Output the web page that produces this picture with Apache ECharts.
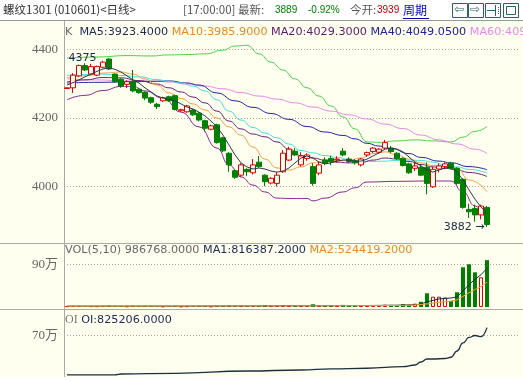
<!DOCTYPE html>
<html><head><meta charset="utf-8">
<script src="https://cdn.jsdelivr.net/npm/echarts@6/dist/echarts.min.js"></script>
<style>html,body{margin:0;padding:0;background:#fff}#c{width:523px;height:381px}</style>
</head><body><div id="c"></div>
<script>
// ---- data ----
const categories = ['1','2','3','4','5','6','7','8','9','10','11','12','13','14','15','16','17','18','19','20',
'21','22','23','24','25','26','27','28','29','30','31','32','33','34','35','36','37','38','39','40',
'41','42','43','44','45','46','47','48','49','50','51','52','53','54','55','56','57','58','59','60',
'61','62','63','64','65','66','67','68','69','70','71','72','73','74','75','76'];
const opens  = [4286,4288,4323,4353,4328,4325,4348,4372,4328,4313,4298,4306,4284,4275,4259,4240,4250,4262,4265,4221,
4218,4223,4214,4192,4167,4180,4142,4097,4046,4033,4050,4040,4071,4033,4010,4009,4043,4077,4103,4063,
4082,4058,4039,4077,4082,4078,4103,4080,4075,4063,4092,4102,4100,4112,4112,4097,4082,4066,4053,4056,
4056,3999,4051,4058,4068,4053,4021,3933,3936,3917,3939];
const closes = [4288,4325,4353,4340,4350,4350,4363,4343,4306,4293,4306,4279,4274,4258,4246,4233,4259,4250,4225,4224,
4235,4209,4194,4170,4177,4128,4104,4063,4027,4063,4043,4063,4058,4014,4024,4033,4097,4109,4092,4089,
4092,4009,4063,4068,4072,4080,4092,4073,4069,4080,4099,4112,4109,4128,4102,4082,4061,4040,4060,4033,
4009,4050,4060,4066,4053,4009,3939,3926,3917,3943,3889];
const lows   = [4285,4273,4320,4337,4325,4322,4345,4340,4303,4288,4287,4275,4271,4252,4241,4226,4247,4247,4222,4218,
4215,4206,4190,4160,4164,4125,4100,4043,4022,4027,4030,4035,4055,4001,4006,4000,4040,4074,4089,4058,
4075,4002,4033,4062,4062,4070,4088,4068,4064,4058,4086,4098,4096,4109,4097,4078,4058,4037,4045,4030,
3977,3996,4041,4050,4050,4005,3935,3908,3897,3904,3882];
const highs  = [4289,4331,4356,4360,4358,4353,4367,4375,4330,4316,4310,4340,4287,4278,4262,4244,4262,4265,4268,4227,
4238,4226,4217,4195,4180,4183,4145,4100,4050,4068,4053,4080,4089,4036,4027,4042,4106,4116,4112,4100,
4097,4068,4073,4085,4090,4088,4112,4085,4080,4083,4102,4115,4112,4136,4118,4100,4085,4069,4070,4062,
4070,4058,4067,4070,4072,4056,4024,3950,3947,3947,3943];
const volumes = [18000,22000,20000,15000,19000,17000,21000,24000,20000,18000,15000,23000,16000,19000,17000,15000,14000,16000,22000,13000,
17000,15000,18000,21000,14000,25000,22000,27000,20000,24000,18000,23000,21000,42000,19000,24000,38000,31000,22000,26000,
20000,58000,30000,25000,40000,34000,45000,28000,24000,30000,32000,29000,35000,48000,44000,38000,62000,40000,70000,110000,
289000,217000,217000,200000,126000,310000,837000,900000,731000,626000,986768];
const ma5 = [4296,4303,4311,4320,4328,4336,4343,4346,4342,4334,4323,4311,4302,4288,4276,4264,4258,4254,4250,4241,
4232,4226,4217,4206,4191,4174,4150,4121,4092,4069,4057,4051,4054,4051,4045,4042,4045,4054,4069,4083,
4089,4083,4071,4066,4069,4074,4077,4077,4074,4074,4080,4089,4098,4109,4112,4109,4101,4086,4071,4060,
4048,4042,4048,4054,4057,4042,4019,3990,3963,3940,3921];
const ma10 = [[0,4317],[3,4323],[6,4331],[9,4334],[11,4328],[13,4314],[15,4296],[17,4273],[19,4257],[21,4241],[23,4223],[25,4200],[27,4174],[29,4150],[31,4115],[33,4080],[35,4054],[37,4048],[39,4057],[41,4069],[43,4074],[45,4076],[47,4077],[49,4083],[51,4096],[53,4101],[55,4092],[57,4080],[59,4069],[61,4061],[63,4060],[65,4054],[67,4019],[70,3985]];
const ma20 = [[0,4305],[3,4311],[6,4318],[9,4317],[12,4309],[15,4299],[17,4288],[19,4276],[21,4261],[23,4244],[25,4220],[27,4191],[29,4168],[31,4153],[33,4145],[35,4130],[37,4109],[39,4090],[41,4083],[43,4077],[45,4071],[47,4069],[49,4070],[51,4077],[53,4083],[55,4080],[57,4073],[59,4064],[61,4057],[63,4053],[65,4048],[67,4041],[70,4029]];
const ma40 = [[0,4302],[5,4304],[10,4305],[14,4307],[17,4308],[20,4302],[22,4296],[25,4273],[28,4250],[31,4231],[34,4213],[37,4196],[40,4175],[43,4159],[46,4149],[48,4139],[50,4126],[52,4118],[54,4111],[57,4096],[59,4085],[62,4074],[64,4069],[67,4058],[70,4049]];
const ma60 = [[0,4314],[5,4311],[10,4308],[15,4307],[17,4305],[20,4299],[23,4293],[26,4285],[29,4274],[32,4264],[35,4255],[38,4244],[41,4232],[44,4220],[47,4209],[50,4197],[53,4182],[56,4169],[59,4150],[62,4136],[65,4124],[68,4109],[70,4096]];
const midLine = [[0,4324],[3,4327],[6,4328],[9,4324],[12,4320],[15,4312],[17,4307],[19,4302],[21,4293],[23,4279],[25,4253],[27,4220],[29,4194],[31,4172],[33,4156],[35,4142],[37,4124],[39,4105],[41,4098],[43,4090],[45,4085],[47,4079],[49,4074],[51,4073],[53,4074],[55,4076],[57,4077],[59,4076],[61,4071],[63,4063],[65,4057],[67,4050],[70,4039]];
const upperBand = [[0,4375],[5,4378],[10,4382],[14,4381],[17,4384],[20,4385],[23,4387],[26,4398],[28,4410],[30,4412],[32,4387],[34,4363],[36,4340],[38,4314],[40,4288],[42,4264],[44,4235],[46,4203],[48,4168],[50,4130],[52,4129],[55,4133],[58,4136],[61,4133],[64,4130],[66,4144],[68,4161],[70,4175]];
const lowerBand = [[0,4253],[3,4266],[6,4280],[9,4292],[11,4292],[13,4279],[16,4258],[19,4217],[22,4174],[25,4112],[27,4063],[29,4028],[31,4004],[33,3984],[35,3966],[37,3965],[40,3965],[41,3958],[43,3966],[46,3984],[48,3996],[50,4013],[55,4015],[60,4016],[64,4016],[66,3984],[68,3943],[70,3896]];
const volMa1 = [[0,19000],[20,20000],[40,26000],[50,31000],[55,38000],[58,50000],[59,62000],[60,110000],[62,170000],[64,190000],[65,214000],[66,338000],[67,475000],[68,581000],[69,681000],[70,816387]];
const volMa2 = [[0,19000],[40,24000],[55,32000],[58,42000],[60,65000],[62,100000],[64,125000],[65,150000],[66,225000],[67,300000],[68,370000],[69,430000],[70,524419]];
const openInterest = [[0,85000],[8,85000],[9,100000],[18,111000],[30,147000],[39,163000],[44,179000],[50,190000],[56,215000],[58,241000],[59,288000],[60,335000],[61,335000],[63,343000],[64,362000],[65,460000],[66,586000],[67,672000],[68,703000],[69,684000],[70,825206]];
const priceTicks = [4000, 4200, 4400];
const volTicks = [900000];
const oiTicks = [700000];

// ---- chart ----
const CREAM = '#fffff0';
const chart = echarts.init(document.getElementById('c'));
const candleData = opens.map((o, i) => [o, closes[i], lows[i], highs[i]]);
const volData = volumes.map((v, i) => ({
  value: v,
  itemStyle: closes[i] >= opens[i] ? {color: CREAM, borderColor: '#e00000', borderWidth: 1} : {color: '#008000'}
}));
const wan = v => (v / 10000) + '万';
const plain = v => String(v);
const axisLab = {color: '#666', fontFamily: 'Liberation Serif, Noto Sans CJK SC', fontSize: 13, margin: 6};
const split = {show: true, lineStyle: {color: '#aaa', type: [1, 2], width: 1}};
function ln(data, color, xi, yi, smooth, z) {
  return {type: 'line', data: data, xAxisIndex: xi, yAxisIndex: yi, symbol: 'none', showSymbol: false,
    smooth: smooth, smoothMonotone: 'x', lineStyle: {color: color, width: 1}, z: z || 3, silent: true};
}
const f11 = 'DejaVu Sans';
const fs = 11.2;
chart.setOption({
  animation: false,
  backgroundColor: CREAM,
  grid: [
    {left: 64, right: 3, top: 21, height: 222, outerBoundsMode: 'none'},
    {left: 64, right: 3, top: 248, height: 59, outerBoundsMode: 'none'},
    {left: 64, right: 3, top: 311, height: 69.4, outerBoundsMode: 'none'}
  ],
  xAxis: [0, 1, 2].map(g => ({type: 'category', gridIndex: g, data: categories, boundaryGap: true, show: false})),
  yAxis: [
    {gridIndex: 0, min: 3835, max: 4483, axisLine: {show: false}, axisTick: {show: false, customValues: priceTicks},
      axisLabel: Object.assign({customValues: priceTicks, formatter: plain}, axisLab), splitLine: split},
    {gridIndex: 1, min: 0, max: 1243000, axisLine: {show: false}, axisTick: {show: false, customValues: volTicks},
      axisLabel: Object.assign({customValues: volTicks, formatter: wan}, axisLab), splitLine: split},
    {gridIndex: 2, min: 0, max: 1086000, axisLine: {show: false}, axisTick: {show: false, customValues: oiTicks},
      axisLabel: Object.assign({customValues: oiTicks, formatter: wan}, axisLab), splitLine: split}
  ],
  title: [
    {text: '螺纹1301 (010601)<日线>', left: 3, top: 4, padding: 0, textStyle: {fontFamily: 'Noto Sans CJK SC', fontSize: 11.5, fontWeight: 'normal', color: '#333'}},
    {text: '[17:00:00] 最新:', left: 183, top: 4, padding: 0, textStyle: {fontFamily: 'Noto Sans CJK SC', fontSize: 11.5, fontWeight: 'normal', color: '#555'}},
    {text: '3889', left: 275, top: 5, padding: 0, textStyle: {fontFamily: 'Liberation Sans', fontSize: 10, fontWeight: 'normal', color: '#008000'}},
    {text: '-0.92%', left: 308, top: 5, padding: 0, textStyle: {fontFamily: 'Liberation Sans', fontSize: 10, fontWeight: 'normal', color: '#008000'}},
    {text: '今开:', left: 350, top: 4, padding: 0, textStyle: {fontFamily: 'Noto Sans CJK SC', fontSize: 11.5, fontWeight: 'normal', color: '#555'}},
    {text: '3939', left: 377, top: 5, padding: 0, textStyle: {fontFamily: 'Liberation Sans', fontSize: 10, fontWeight: 'normal', color: '#c00000'}},
    {text: '{k|K}  {a|MA5:3923.4000} {b|MA10:3985.9000} {c|MA20:4029.3000} {d|MA40:4049.0500} {e|MA60:4096.2000}',
      left: 65, top: 27, padding: 0, textStyle: {fontFamily: f11, fontSize: fs, fontWeight: 'normal', rich: {
        k: {color: '#666', fontFamily: f11, fontSize: fs}, a: {color: '#1c2a50', fontFamily: f11, fontSize: fs},
        b: {color: '#f08a20', fontFamily: f11, fontSize: fs}, c: {color: '#5a1a66', fontFamily: f11, fontSize: fs},
        d: {color: '#22229a', fontFamily: f11, fontSize: fs}, e: {color: '#ee88ee', fontFamily: f11, fontSize: fs}}}},
    {text: '{g|VOL(5,10) 986768.0000} {a|MA1:816387.2000} {b|MA2:524419.2000}', left: 65, top: 245, padding: 0,
      textStyle: {fontFamily: f11, fontSize: fs, fontWeight: 'normal', rich: {
        g: {color: '#666', fontFamily: f11, fontSize: fs}, a: {color: '#1c2a50', fontFamily: f11, fontSize: fs},
        b: {color: '#f08a20', fontFamily: f11, fontSize: fs}}}},
    {text: '{g|OI} {a|OI:825206.0000}', left: 65, top: 314, padding: 0,
      textStyle: {fontFamily: f11, fontSize: fs, fontWeight: 'normal', rich: {
        g: {color: '#777', fontFamily: 'Liberation Serif', fontSize: 12}, a: {color: '#1c2a50', fontFamily: f11, fontSize: fs}}}}
  ],
  graphic: [
    {type: 'rect', shape: {x: 0, y: 0, width: 523, height: 20}, style: {fill: '#fff'}, z: -10, silent: true},
    {type: 'rect', shape: {x: 0, y: 377, width: 523, height: 4}, style: {fill: '#fff'}, z: 100, silent: true},
    {type: 'line', shape: {x1: 0, y1: 20.5, x2: 523, y2: 20.5}, style: {stroke: '#999', lineWidth: 1}, silent: true},
    {type: 'line', shape: {x1: 64.5, y1: 21, x2: 64.5, y2: 377}, style: {stroke: '#aaa', lineWidth: 1}, silent: true},
    {type: 'line', shape: {x1: 0, y1: 243.5, x2: 523, y2: 243.5}, style: {stroke: '#aaa', lineWidth: 1}, silent: true},
    {type: 'line', shape: {x1: 0, y1: 309.5, x2: 523, y2: 309.5}, style: {stroke: '#aaa', lineWidth: 1}, silent: true},
    {type: 'rect', shape: {x: 401, y: 1, width: 40, height: 18}, style: {fill: '#fff'}, z: 50, silent: true},
    {type: 'text', x: 403, y: 4, style: {text: '周期', fill: '#0000c0', font: '12px "Noto Sans CJK SC"'}, z: 51, silent: true},
    {type: 'line', shape: {x1: 403, y1: 18.5, x2: 429, y2: 18.5}, style: {stroke: '#0000c0', lineWidth: 1}, z: 51, silent: true},
    {type: 'rect', shape: {x: 452.5, y: 3.5, width: 15, height: 14}, style: {fill: '#fff', stroke: '#2a6464', lineWidth: 1}, z: 51, silent: true},
    {type: 'text', x: 454, y: 4, style: {text: '⇦', fill: '#2a6464', font: '12px "DejaVu Sans"'}, z: 52, silent: true},
    {type: 'rect', shape: {x: 468.5, y: 3.5, width: 15, height: 14}, style: {fill: '#fff', stroke: '#2a6464', lineWidth: 1}, z: 51, silent: true},
    {type: 'text', x: 470, y: 4, style: {text: '⇨', fill: '#2a6464', font: '12px "DejaVu Sans"'}, z: 52, silent: true},
    {type: 'rect', shape: {x: 485.5, y: 3.5, width: 15, height: 14}, style: {fill: '#fff', stroke: '#2a6464', lineWidth: 1}, z: 51, silent: true},
    {type: 'line', shape: {x1: 487, y1: 10.5, x2: 495, y2: 10.5}, style: {stroke: '#2a6464', lineWidth: 1}, z: 52, silent: true},
    {type: 'line', shape: {x1: 495.5, y1: 5, x2: 495.5, y2: 16}, style: {stroke: '#2a6464', lineWidth: 1}, z: 52, silent: true},
    {type: 'line', shape: {x1: 498.5, y1: 7, x2: 498.5, y2: 14}, style: {stroke: '#2a6464', lineWidth: 1, lineDash: [1, 1]}, z: 52, silent: true},
    {type: 'rect', shape: {x: 503.5, y: 3.5, width: 15, height: 14}, style: {fill: '#fff', stroke: '#2a6464', lineWidth: 1}, z: 51, silent: true},
    {type: 'rect', shape: {x: 506.5, y: 6.5, width: 9, height: 8}, style: {fill: 'none', stroke: '#2a6464', lineWidth: 1}, z: 52, silent: true}
  ],
  series: [
    ln(upperBand, '#4cd24c', 0, 0, true),
    ln(lowerBand, '#8a2a96', 0, 0, true),
    ln(ma60, '#e88ae8', 0, 0, true),
    ln(ma40, '#2424a0', 0, 0, true),
    ln(midLine, '#44dede', 0, 0, true),
    ln(ma20, '#6a2278', 0, 0, true),
    ln(ma10, '#f4a040', 0, 0, true),
    ln(ma5, '#2a3a4e', 0, 0, false, 6),
    {type: 'candlestick', xAxisIndex: 0, yAxisIndex: 0, data: candleData, barWidth: 5, z: 5, silent: true,
      itemStyle: {color: CREAM, color0: '#008000', borderColor: '#e00000', borderColor0: '#008000', borderWidth: 1},
      markPoint: {symbol: 'circle', symbolSize: 1, itemStyle: {color: 'rgba(0,0,0,0)'}, silent: true,
        data: [
          {type: 'max', valueDim: 'highest', label: {show: true, position: 'left', distance: 12, formatter: p => String(p.value), color: '#1a2a40', fontFamily: f11, fontSize: 11}},
          {type: 'min', valueDim: 'lowest', label: {show: true, position: 'left', distance: 2, formatter: p => p.value + ' →', color: '#1a2a40', fontFamily: f11, fontSize: 11}}
        ]}},
    {type: 'bar', xAxisIndex: 1, yAxisIndex: 1, data: volData, barWidth: 4, silent: true, z: 3},
    ln(volMa1, '#1c2a40', 1, 1, false, 4),
    ln(volMa2, '#f0a030', 1, 1, false, 4),
    Object.assign(ln(openInterest, '#1a3040', 2, 2, true, 4), {lineStyle: {color: '#1a3040', width: 1.3}})
  ]
});
</script>
</body></html>
